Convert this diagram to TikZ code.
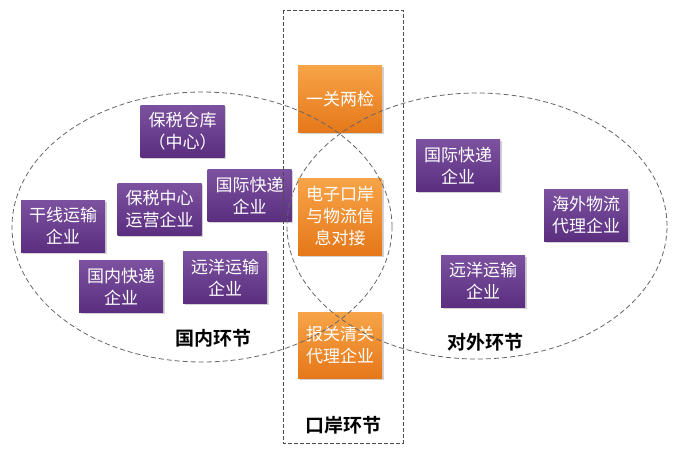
\documentclass[tikz,border=0pt]{standalone}
\usepackage{fontspec}
\setmainfont{Noto Sans CJK SC}[BoldFont={* Bold}]
\usetikzlibrary{shadows}
\definecolor{purpleT}{HTML}{7C52A0}
\definecolor{purpleB}{HTML}{5B2E7F}
\definecolor{orangeT}{HTML}{F7A448}
\definecolor{orangeB}{HTML}{E5781A}
\tikzset{
  pbox/.style={draw=none, top color=purpleT, bottom color=purpleB, text=white,
    minimum width=84pt, minimum height=52pt, inner sep=1pt, align=center,
    font=\fontsize{17}{22}\selectfont, drop shadow={shadow xshift=1.5pt, shadow yshift=-1.5pt, opacity=0.35}},
  obox/.style={pbox, top color=orangeT, bottom color=orangeB},
  lbl/.style={text=black, font=\fontsize{19}{22}\selectfont\bfseries},
  ell/.style={draw=gray!80!black, dash pattern=on 5pt off 3pt, line width=0.8pt},
}
\begin{document}
\begin{tikzpicture}[x=1pt,y=-1pt]
\fill[white] (0,0) rectangle (683,453);
\useasboundingbox (0,0) rectangle (683,453);
% left side boxes
\node[pbox] (b1) at (182.5,131) {保税仓库\\（中心）};
\node[pbox] (b2) at (249.5,195.5) {国际快递\\企业};
\node[pbox] (b3) at (159.5,209) {保税中心\\运营企业};
\node[pbox] (b4) at (63,226) {干线运输\\企业};
\node[pbox] (b5) at (121,286.5) {国内快递\\企业};
\node[pbox] (b6) at (225,277.5) {远洋运输\\企业};
% right side boxes
\node[pbox] (r1) at (458,165.5) {国际快递\\企业};
\node[pbox] (r2) at (586,215) {海外物流\\代理企业};
\node[pbox] (r3) at (483,281) {远洋运输\\企业};
% port boxes
\node[obox, minimum height=67pt] (o1) at (340,98.5) {一关两检};
\node[obox, minimum height=77pt] (o2) at (340,216.5) {电子口岸\\与物流信\\息对接};
\node[obox, minimum height=66pt] (o3) at (340,345) {报关清关\\代理企业};
% outlines
\draw[ell] (202,227) ellipse [x radius=190pt, y radius=135pt];
\draw[ell] (477,226) ellipse [x radius=190pt, y radius=133pt];
\draw[ell, draw=black!70, dash pattern=on 4pt off 2pt, line width=0.9pt] (283,10) rectangle (403,443);
% labels
\node[lbl] (l1) at (213,338) {国内环节};
\node[lbl] (l2) at (485,342) {对外环节};
\node[lbl] (l3) at (343,425) {口岸环节};
\end{tikzpicture}
\end{document}
